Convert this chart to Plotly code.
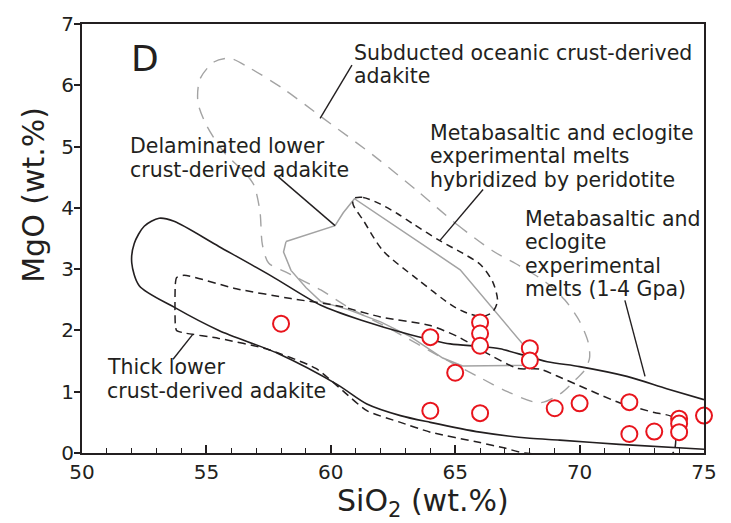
import plotly.graph_objects as go

# Sample compositions (wt.%)
sio2 = [58, 64, 64, 65, 66, 66, 66, 66, 68, 68, 69, 70, 72, 72, 73, 74, 74, 74, 75]
mgo = [2.11, 1.89, 0.69, 1.31, 2.13, 1.95, 1.75, 0.65, 1.71, 1.51, 0.73, 0.81,
       0.83, 0.31, 0.35, 0.56, 0.48, 0.34, 0.61]

# Field outlines (SiO2, MgO)
# Metabasaltic and eclogite experimental melts (1-4 GPa)
exp_x = [75.0, 73.5, 71.9, 70.0, 68.7, 66.8, 66.0, 64.8, 63.2, 61.2, 59.6, 57.6, 55.5,
         53.7, 53.1, 52.5, 52.1, 52.0, 52.3, 53.7, 55.5, 57.9, 60.25, 61.45, 62.8, 64.0,
         66.0, 68.0, 69.2, 71.6, 75.0]
exp_y = [0.87, 1.05, 1.25, 1.41, 1.49, 1.70, 1.74, 1.78, 1.93, 2.17, 2.41, 2.89, 3.37,
         3.78, 3.83, 3.70, 3.42, 3.10, 2.73, 2.38, 2.00, 1.62, 1.12, 0.80, 0.61, 0.50,
         0.34, 0.24, 0.21, 0.14, 0.06]

# Thick lower crust-derived adakite
thick_x = [73.75, 73.75, 73.0, 71.6, 69.3, 68.4, 67.5, 66.4, 65.1, 64.0, 62.0, 60.3, 58.4,
           56.2, 54.1, 53.8, 53.75, 53.75, 53.8, 54.1, 55.5, 57.4, 59.4, 60.5, 61.45, 62.8,
           64.0, 66.0, 67.0, 67.8, 73.75]
thick_y = [0.0, 0.58, 0.66, 0.82, 1.22, 1.37, 1.38, 1.60, 1.90, 2.08, 2.22, 2.40, 2.52,
           2.68, 2.90, 2.86, 2.75, 2.10, 2.00, 1.96, 1.87, 1.70, 1.38, 1.01, 0.69, 0.50,
           0.34, 0.17, 0.08, 0.0, 0.0]

# Experimental melts hybridized by peridotite
hyb_x = [60.9, 61.3, 62.0, 62.7, 63.3, 64.4, 65.3, 66.0, 66.5, 66.7, 66.5, 66.1, 65.5,
         64.9, 63.5, 62.1, 61.3, 60.9, 60.9]
hyb_y = [4.15, 4.17, 4.06, 3.90, 3.74, 3.46, 3.26, 3.08, 2.80, 2.48, 2.30, 2.23, 2.28,
         2.40, 2.83, 3.30, 3.80, 4.05, 4.15]

# Delaminated lower crust-derived adakite
delam_x = [58.2, 60.17, 60.5, 60.95, 65.2, 67.75, 68.0, 67.8, 65.3, 64.5, 63.2, 62.0,
           60.7, 59.6, 59.0, 58.4, 58.1, 58.2]
delam_y = [3.45, 3.71, 3.92, 4.15, 2.99, 1.76, 1.50, 1.43, 1.42, 1.55, 1.90, 2.14,
           2.34, 2.47, 2.70, 2.98, 3.28, 3.45]

# Subducted oceanic crust-derived adakite
sub_x = [63.5, 65.1, 66.5, 67.6, 68.6, 69.4, 70.0, 70.35, 70.4, 70.2, 69.8, 69.2, 68.4,
         67.1, 66.0, 64.5, 62.5, 60.7, 59.6, 58.2, 57.5, 57.25, 57.15, 56.9, 56.5, 55.7,
         55.0, 54.66, 54.74, 55.3, 55.95, 56.75, 58.1, 59.7, 61.7, 63.5]
sub_y = [4.27, 3.72, 3.30, 3.05, 2.80, 2.50, 2.15, 1.80, 1.55, 1.35, 1.18, 0.96, 0.82,
         1.00, 1.23, 1.55, 2.00, 2.38, 2.66, 2.95, 3.10, 3.40, 3.95, 4.38, 4.59, 4.91,
         5.35, 5.72, 6.10, 6.38, 6.44, 6.28, 5.94, 5.46, 4.86, 4.27]

# Leader lines from labels to fields: (x0, y0, x1, y1)
leaders = [
    (60.85, 6.33, 59.57, 5.46),
    (57.88, 4.51, 60.17, 3.71),
    (66.12, 4.30, 64.39, 3.47),
    (71.82, 2.49, 72.63, 1.25),
    (54.46, 1.94, 53.66, 1.53),
]

# Field labels: (text, x, y)
labels = [
    ("Subducted oceanic crust-derived", 60.85, 6.52),
    ("adakite", 60.85, 6.15),
    ("Delaminated lower", 51.85, 5.01),
    ("crust-derived adakite", 51.85, 4.62),
    ("Metabasaltic and eclogite", 63.91, 5.22),
    ("experimental melts", 63.91, 4.85),
    ("hybridized by peridotite", 63.91, 4.46),
    ("Metabasaltic and", 67.73, 3.82),
    ("eclogite", 67.73, 3.44),
    ("experimental", 67.73, 3.05),
    ("melts (1-4 Gpa)", 67.73, 2.68),
    ("Thick lower", 50.92, 1.40),
    ("crust-derived adakite", 50.92, 1.01),
]

INK = "#231f20"
GREY = "#a3a3a3"
RED = "#e8141c"
FONT = "DejaVu Sans"

fig = go.Figure()

fig.add_trace(go.Scatter(x=sub_x, y=sub_y, mode="lines",
                         line=dict(color=GREY, width=1.4, dash="12px,9px", shape="spline", smoothing=0.8),
                         hoverinfo="skip"))
fig.add_trace(go.Scatter(x=delam_x, y=delam_y, mode="lines",
                         line=dict(color=GREY, width=1.5),
                         hoverinfo="skip"))
fig.add_trace(go.Scatter(x=hyb_x, y=hyb_y, mode="lines",
                         line=dict(color=INK, width=1.5, dash="7px,5px", shape="spline", smoothing=0.8),
                         hoverinfo="skip"))
fig.add_trace(go.Scatter(x=thick_x, y=thick_y, mode="lines",
                         line=dict(color=INK, width=1.5, dash="8px,5px", shape="spline", smoothing=0.6),
                         hoverinfo="skip"))
fig.add_trace(go.Scatter(x=exp_x, y=exp_y, mode="lines",
                         line=dict(color=INK, width=1.6, shape="spline", smoothing=0.8),
                         hoverinfo="skip"))

for x0, y0, x1, y1 in leaders:
    fig.add_trace(go.Scatter(x=[x0, x1], y=[y0, y1], mode="lines",
                             line=dict(color=INK, width=1.4), hoverinfo="skip"))

fig.add_trace(go.Scatter(x=sio2, y=mgo, mode="markers", cliponaxis=False,
                         marker=dict(symbol="circle", size=16, color="white",
                                     line=dict(color=RED, width=2))))

for text, x, y in labels:
    fig.add_annotation(x=x, y=y, text=text, showarrow=False, xanchor="left", yanchor="middle",
                       font=dict(family=FONT, size=20.5, color=INK))

fig.add_annotation(x=52.53, y=6.44, text="D", showarrow=False, xanchor="center", yanchor="middle",
                   font=dict(family=FONT, size=36, color=INK))

# Axis titles
fig.add_annotation(xref="paper", yref="paper", x=0.548, y=-0.116, text="SiO<sub>2</sub> (wt.%)",
                   showarrow=False, xanchor="center", yanchor="middle",
                   font=dict(family=FONT, size=30, color=INK))
fig.add_annotation(xref="paper", yref="paper", x=-0.078, y=0.603, text="MgO (wt.%)", textangle=-90,
                   showarrow=False, xanchor="center", yanchor="middle",
                   font=dict(family=FONT, size=30, color=INK))

fig.update_layout(
    width=731, height=523, autosize=False,
    margin=dict(l=82, r=27, t=17, b=70),
    plot_bgcolor="white", paper_bgcolor="white",
    showlegend=False,
    font=dict(family=FONT, color=INK),
)
fig.update_xaxes(range=[50, 75], tick0=50, dtick=5, ticks="inside", ticklen=8, tickwidth=1.5,
                 tickcolor=INK, showline=True, linewidth=2, linecolor=INK, mirror=True,
                 showgrid=False, zeroline=False, tickfont=dict(family=FONT, size=20, color=INK),
                 minor=dict(dtick=1, ticks="inside", ticklen=5, tickwidth=1.2, tickcolor=INK, showgrid=False))
fig.update_yaxes(range=[0, 7], tick0=0, dtick=1, ticks="outside", ticklen=6, tickwidth=1.5,
                 tickcolor=INK, showline=True, linewidth=2, linecolor=INK, mirror=True,
                 showgrid=False, zeroline=False, ticklabelstandoff=-4,
                 tickfont=dict(family=FONT, size=20, color=INK))

fig.write_html("out.html")
